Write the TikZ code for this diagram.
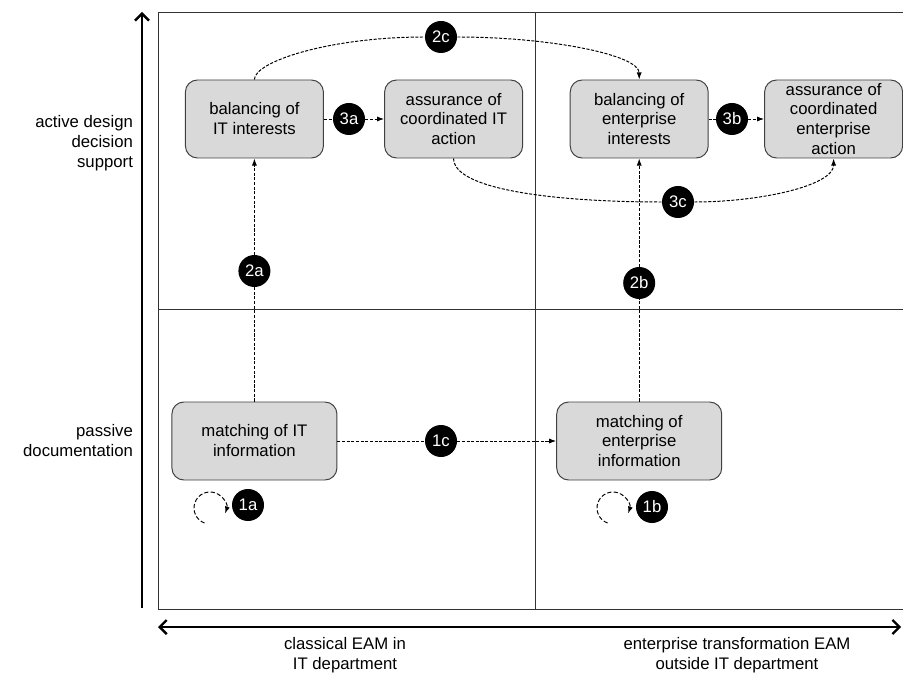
\documentclass[tikz,border=0pt]{standalone}
\usepackage{fontspec}
\setmainfont{Liberation Sans}
\usetikzlibrary{arrows.meta}

\begin{document}
\begin{tikzpicture}[every node/.style={font=\fontsize{11.9}{14.2}\selectfont},
	box/.style={draw=black!75, fill=black!15, rounded corners=0.3cm, line width=0.7pt, align=center, minimum width=3.45cm, minimum height=1.95cm, inner sep=0pt},
	wide/.style={minimum width=4.125cm},
	num/.style={circle, fill=black, text=white, minimum size=0.8cm, inner sep=0pt},
	flow/.style={line width=0.7pt, dash pattern=on 2.2pt off 1.1pt},
	loop/.style={line width=0.7pt, dash pattern=on 3pt off 1.6pt},
	tip/.style={-{Latex[length=5pt,width=3.6pt]}},
	axis/.style={line width=1.7pt},
	grid/.style={line width=0.7pt, draw=black!80}]
	\clip (0,0) rectangle (22.575,16.85);
	\draw[grid] (3.95,1.625) rectangle (23,16.55);
	\draw[grid] (13.375,1.625) -- (13.375,16.55);
	\draw[grid] (3.95,9.125) -- (23,9.125);
	\coordinate (ybot) at (3.55,1.65);
	\coordinate (ytop) at (3.55,16.55);
	\coordinate (xleft) at (3.95,1.175);
	\coordinate (xright) at (22.53,1.175);
	\draw[axis, -{Straight Barb[length=5pt,width=10pt]}] (ybot) -- (ytop);
	\draw[axis, {Straight Barb[length=5pt,width=10pt]}-{Straight Barb[length=5pt,width=10pt]}] (xleft) -- (xright);
	\node[anchor=east, align=right, inner sep=0pt] (active) at (3.33,13.275) {active design\\decision\\support};
	\node[anchor=east, align=right, inner sep=0pt] (passive) at (3.33,5.825) {passive\\documentation};
	\node[align=center] (classical) at (8.625,0.475) {classical EAM in\\IT department};
	\node[align=center] (transform) at (18.425,0.475) {enterprise transformation EAM\\outside IT department};
	\node[box] (bIT) at (6.36,13.875) {balancing of\\IT interests};
	\node[box] (aIT) at (11.34,13.875) {assurance of\\coordinated IT\\action};
	\node[box] (bEnt) at (15.98,13.875) {balancing of\\enterprise\\interests};
	\node[box] (aEnt) at (20.84,13.875) {assurance of\\coordinated\\enterprise\\action};
	\node[box, wide] (mIT) at (6.36,5.825) {matching of IT\\information};
	\node[box, wide] (mEnt) at (15.98,5.825) {matching of\\enterprise\\information};
	\node[num] (n1a) at (6.2,4.225) {1a};
	\node[num] (n1b) at (16.3,4.175) {1b};
	\node[num] (n1c) at (11.025,5.825) {1c};
	\node[num] (n2a) at (6.36,10.075) {2a};
	\node[num] (n2b) at (15.98,9.775) {2b};
	\node[num] (n2c) at (11.025,15.925) {2c};
	\node[num] (n3a) at (8.725,13.875) {3a};
	\node[num] (n3b) at (18.3,13.875) {3b};
	\node[num] (n3c) at (16.95,11.8) {3c};
	\coordinate (l1a) at (5.25,4.15);
	\coordinate (l1b) at (15.325,4.15);
	\draw[loop, tip] ([shift={(250:0.4)}]l1a) arc[start angle=250, end angle=-20, radius=0.4];
	\draw[loop, tip] ([shift={(250:0.4)}]l1b) arc[start angle=250, end angle=-20, radius=0.4];
	\draw[flow] (mIT) -- (n1c);
	\draw[flow, tip] (n1c) -- (mEnt);
	\draw[flow] (mIT) -- (n2a);
	\draw[flow, tip] (n2a) -- (bIT);
	\draw[flow] (mEnt) -- (n2b);
	\draw[flow, tip] (n2b) -- (bEnt);
	\draw[flow] (bIT.north) .. controls +(0,0.45) and +(-2.78,0) .. (n2c);
	\draw[flow, tip] (n2c) .. controls +(2.7,0) and +(0,0.62) .. (bEnt.north);
	\draw[flow] (bIT) -- (n3a);
	\draw[flow, tip] (n3a) -- (aIT);
	\draw[flow] (bEnt) -- (n3b);
	\draw[flow, tip] (n3b) -- (aEnt);
	\draw[flow] (aIT.south) .. controls +(0,-0.8) and +(-2.95,0) .. (n3c);
	\draw[flow, tip] (n3c) .. controls +(2.05,0) and +(0,-0.68) .. (aEnt.south);
\end{tikzpicture}
\end{document}
